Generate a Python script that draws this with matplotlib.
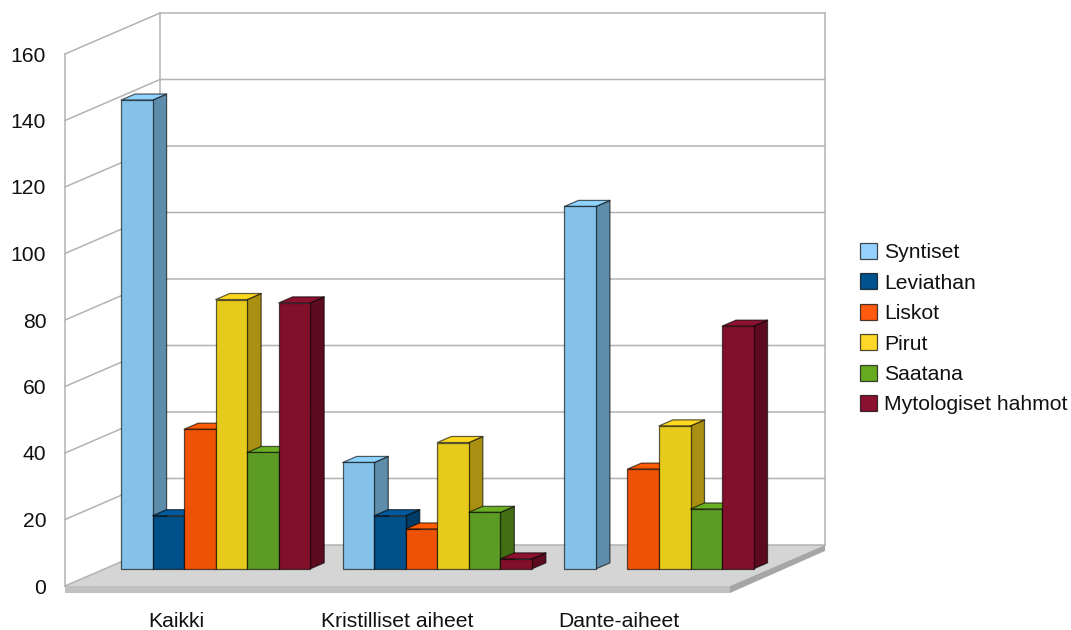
import numpy as np
import matplotlib
matplotlib.use("Agg")
import matplotlib.pyplot as plt
from matplotlib.patches import Polygon, Patch

plt.rcParams['font.family'] = ['Liberation Sans', 'DejaVu Sans']

categories = ["Kaikki", "Kristilliset aiheet", "Dante-aiheet"]
series_names = ["Syntiset", "Leviathan", "Liskot", "Pirut", "Saatana", "Mytologiset hahmot"]
syntiset = [141, 32, 109]
leviathan = [16, 16, np.nan]
liskot = [42, 12, 30]
pirut = [81, 38, 43]
saatana = [35, 17, 18]
mytologiset = [80, 3, 73]
all_series = [syntiset, leviathan, liskot, pirut, saatana, mytologiset]
y_ticks = list(range(0, 161, 20))

front_colors = ["#84c2e9", "#00508a", "#ee5204", "#e6ca1c", "#5c9b24", "#82102a"]
top_colors = ["#8fd4ff", "#005a9c", "#ff5c00", "#ffd920", "#6bb024", "#8c1230"]
side_colors = ["#5e8dac", "#003c66", "#b03c00", "#a98f12", "#436f12", "#5c0a1e"]
legend_colors = ["#96d2ff", "#00528f", "#ff5a0e", "#ffd728", "#66aa22", "#8a1230"]

W, H = 1071, 630
FONT = 15.2
fig = plt.figure(figsize=(W / 100, H / 100), dpi=100, facecolor="white")
ax = fig.add_axes([65 / W, (H - 586) / H, 665 / W, 532 / H])
ax.set_xlim(0, 3)
ax.set_ylim(0, 160)
for s in ax.spines.values():
    s.set_visible(False)
ax.patch.set_visible(False)

# Oblique projection: depth 0 is the front plane, depth 1 the back wall.
DX = 95 / (665 / 3)
DV = 41 / (532 / 160)


def proj(x, v, d):
    return (x + d * DX, v + d * DV)


def face(points, color, z, edge="none", lw=0.0):
    ax.add_patch(Polygon(points, closed=True, facecolor=color, edgecolor=edge,
                         linewidth=lw, clip_on=False, zorder=z, joinstyle="round"))


WALL = "#b3b3b3"
SLAB_DV = 7 / (532 / 160)

# Floor with its slab edges
face([proj(0, 0, 0), proj(3, 0, 0), proj(3, 0, 1), proj(0, 0, 1)], "#d5d5d5", 1)
face([proj(0, 0, 0), proj(3, 0, 0), proj(3, -SLAB_DV, 0), proj(0, -SLAB_DV, 0)], "#c0c0c0", 1)
face([proj(3, 0, 0), proj(3, 0, 1), proj(3, -SLAB_DV * 0.85, 1), proj(3, -SLAB_DV, 0)], "#a6a6a6", 1)

# Grid on the side and back walls
for v in y_ticks:
    p0, p1, p2 = proj(0, v, 0), proj(0, v, 1), proj(3, v, 1)
    ax.plot([p0[0], p1[0], p2[0]], [p0[1], p1[1], p2[1]], color=WALL, lw=1.1,
            clip_on=False, zorder=2, solid_joinstyle="miter")
for (x, d) in [(0, 0), (0, 1), (3, 1)]:
    a, b = proj(x, 0, d), proj(x, y_ticks[-1], d)
    ax.plot([a[0], b[0]], [a[1], b[1]], color=WALL, lw=1.1, clip_on=False, zorder=2)

# Bars, left to right so each bar covers the side face of its neighbour
BAR_W = 0.1422
MARGIN = 16.4 / (665 / 3)
D0, D1 = 0.418, 0.565
EDGE = (0, 0, 0, 0.62)
z = 3
for c in range(len(categories)):
    for i, values in enumerate(all_series):
        v = values[c]
        if np.isnan(v):
            continue
        x0 = c + MARGIN + i * BAR_W
        x1 = x0 + BAR_W
        face([proj(x1, 0, D0), proj(x1, 0, D1), proj(x1, v, D1), proj(x1, v, D0)],
             side_colors[i], z, EDGE, 0.9)
        face([proj(x0, v, D0), proj(x1, v, D0), proj(x1, v, D1), proj(x0, v, D1)],
             top_colors[i], z, EDGE, 0.9)
        face([proj(x0, 0, D0), proj(x1, 0, D0), proj(x1, v, D0), proj(x0, v, D0)],
             front_colors[i], z, EDGE, 0.9)
        z += 1

ax.set_yticks(y_ticks)
ax.set_xticks([c + 0.5 for c in range(len(categories))])
ax.set_xticklabels(categories)
ax.tick_params(axis="y", length=0, pad=13.5, labelsize=FONT, labelcolor="#111111")
ax.tick_params(axis="x", length=0, pad=18.5, labelsize=FONT, labelcolor="#111111")

handles = [Patch(facecolor=col, edgecolor=(0, 0, 0, 0.7), linewidth=0.9) for col in legend_colors]
leg = ax.legend(handles, series_names, loc="upper left", frameon=False,
                bbox_to_anchor=(860 / W, 1 - 243 / H), bbox_transform=fig.transFigure,
                borderaxespad=0, borderpad=0, fontsize=FONT,
                handlelength=0.8, handleheight=0.78, handletextpad=0.36,
                labelspacing=0.527, labelcolor="#111111")

fig.savefig("out.png", dpi=100, facecolor="white")
